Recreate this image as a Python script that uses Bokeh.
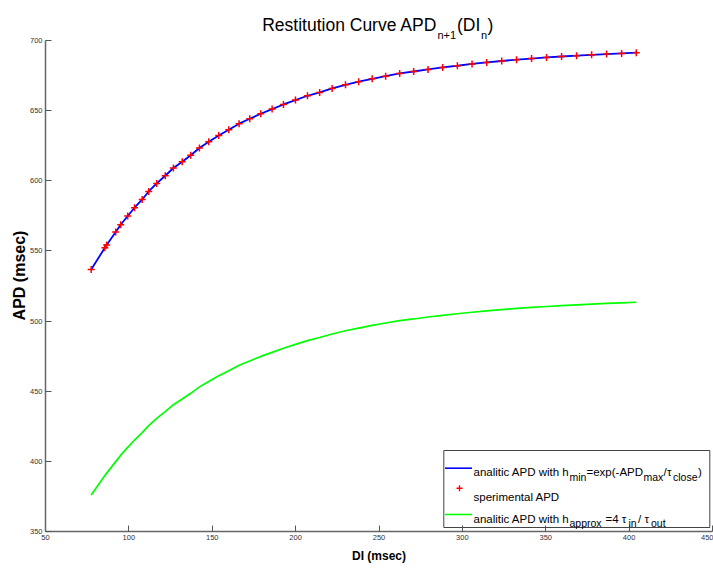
from math import pi
from bokeh.plotting import figure
from bokeh.models import Range1d, Label, BoxAnnotation, FixedTicker
from bokeh.embed import file_html
from bokeh.resources import INLINE

# ---------------- data ----------------
di_msec = [77.4, 85.6, 86.7, 92.1, 95.1, 99.3, 103.4, 108.0, 111.9, 116.7,
           121.8, 126.7, 132.0, 137.1, 142.3, 147.9, 153.9, 159.9, 166.1, 172.5,
           179.1, 185.9, 192.7, 199.9, 207.1, 214.4, 221.9, 229.9, 237.8, 245.9,
           254.0, 262.4, 270.8, 279.4, 288.2, 297.0, 305.8, 314.6, 323.6, 332.5,
           341.5, 350.5, 359.5, 368.5, 377.5, 386.5, 395.5, 404.3]

apd_experimental = [536.7, 552.3, 554.3, 563.5, 568.7, 574.9, 580.8, 586.7, 592.4, 598.1,
                    603.6, 609.1, 613.6, 618.2, 623.4, 627.8, 632.3, 636.4, 640.7, 644.2,
                    647.8, 651.1, 654.4, 657.5, 660.6, 663.0, 665.8, 668.4, 670.6, 672.7,
                    674.6, 676.5, 677.9, 679.4, 680.8, 682.0, 683.3, 684.4, 685.4, 686.3,
                    687.1, 687.9, 688.6, 689.2, 689.8, 690.3, 690.8, 691.3]

apd_analytic_hmin = [536.7, 552.3, 554.3, 563.5, 568.7, 574.9, 580.8, 586.7, 592.4, 598.1,
                     603.6, 609.1, 613.6, 618.2, 623.4, 627.8, 632.3, 636.4, 640.7, 644.2,
                     647.8, 651.1, 654.4, 657.5, 660.6, 663.0, 665.8, 668.4, 670.6, 672.7,
                     674.6, 676.5, 677.9, 679.4, 680.8, 682.0, 683.3, 684.4, 685.4, 686.3,
                     687.1, 687.9, 688.6, 689.2, 689.8, 690.3, 690.8, 691.3]

apd_analytic_happrox = [376.0, 389.9, 391.6, 399.8, 404.4, 410.0, 415.2, 420.5, 425.5, 430.6,
                        435.5, 440.4, 444.4, 448.5, 453.1, 457.0, 461.0, 464.6, 468.5, 471.6,
                        474.8, 477.7, 480.6, 483.4, 486.1, 488.3, 490.8, 493.1, 495.0, 496.9,
                        498.6, 500.3, 501.5, 502.9, 504.1, 505.2, 506.3, 507.3, 508.2, 509.0,
                        509.7, 510.4, 511.0, 511.6, 512.1, 512.6, 513.0, 513.4]

x_ticks = [50, 100, 150, 200, 250, 300, 350, 400, 450]
y_ticks = [350, 400, 450, 500, 550, 600, 650, 700]

# ---------------- layout ----------------
W, H = 713, 569
# pixel positions of the axis box (x: 50..450, y: 350..700) in the canvas
FL, FR, FT, FB = 45, 712, 40, 531
X0, X1, Y0, Y1 = 50, 450, 350, 700
FONT = "Liberation Sans"


def dx(px):
    return X0 + (px - FL) * (X1 - X0) / (FR - FL)


def dy(py):
    return Y1 - (py - FT) * (Y1 - Y0) / (FB - FT)


# the frame covers the whole canvas; the axes are fixed at x=50 / y=350
p = figure(width=W, height=H,
           x_range=Range1d(dx(0), dx(W)), y_range=Range1d(dy(H), dy(0)),
           output_backend="svg", toolbar_location=None,
           min_border_left=0, min_border_right=0,
           min_border_top=0, min_border_bottom=0)
p.title.visible = False
p.outline_line_color = None
p.grid.visible = False
p.background_fill_color = "white"
p.border_fill_color = "white"

p.xaxis.fixed_location = Y0
p.yaxis.fixed_location = X0
p.xaxis.bounds = (X0, X1)
p.yaxis.bounds = (Y0, Y1)
for ax in (p.xaxis[0], p.yaxis[0]):
    ax.axis_line_color = "#666666"
    ax.axis_line_width = 1.5
    ax.major_tick_line_color = "#555555"
    ax.major_tick_in = 6
    ax.major_tick_out = 0
    ax.minor_tick_line_color = None
    ax.major_label_text_font = FONT
    ax.major_label_text_font_size = "7.5px"
    ax.major_label_text_color = "#333333"
    ax.major_label_standoff = 3
p.xaxis.ticker = FixedTicker(ticks=x_ticks)
p.yaxis.ticker = FixedTicker(ticks=y_ticks)

# ---------------- data renderers ----------------
p.line(di_msec, apd_analytic_hmin, line_color="#0000ff", line_width=1.8)
p.scatter(di_msec, apd_experimental, marker="cross", size=7,
          line_color="#ff0000", line_width=1.5)
p.line(di_msec, apd_analytic_happrox, line_color="#00ff00", line_width=1.7)


def txt(s, px, py, size, bold=False, baseline="alphabetic", align="left", angle=0.0, color="black"):
    p.add_layout(Label(x=dx(px), y=dy(py), text=s, text_font=FONT,
                       text_font_size=size, text_font_style="bold" if bold else "normal",
                       text_baseline=baseline, text_align=align, angle=angle,
                       text_color=color))


# ---------------- title ----------------
txt("Restitution Curve APD", 261.7, 24, "17.5px")
txt("n+1", 437, 34.5, "11px")
txt("(DI", 456.5, 24, "17.5px")
txt("n", 480.5, 34.5, "11px")
txt(")", 487, 24, "17.5px")

# ---------------- axis labels ----------------
txt("DI (msec)", (FL + FR) / 2, 555.5, "12px", bold=True, baseline="middle", align="center")
txt("APD (msec)", 19, 275, "16px", bold=True, baseline="middle", align="center", angle=pi / 2)

# ---------------- legend ----------------
p.add_layout(BoxAnnotation(left=dx(443.3), right=dx(709.3), top=dy(450), bottom=dy(527),
                           fill_color=None, line_color="#444444", line_width=1,
                           line_alpha=1))
p.segment(x0=[dx(444.5)], y0=[dy(467.7)], x1=[dx(471.5)], y1=[dy(467.7)],
          line_color="#0000ff", line_width=1.6)
p.scatter([dx(459)], [dy(487.7)], marker="cross", size=6, line_color="#ff0000", line_width=1.4)
p.segment(x0=[dx(444.5)], y0=[dy(514)], x1=[dx(471.5)], y1=[dy(514)],
          line_color="#00ff00", line_width=1.6)

MAIN, SUB = "11.5px", "10.5px"
# entry 1
txt("analitic APD with h", 473, 471, MAIN)
txt("min", 569, 476, SUB)
txt("=exp(-APD", 586, 471, MAIN)
txt("max", 643, 476, SUB)
txt("/", 663, 471, MAIN)
txt("\u03c4", 666.5, 471, MAIN)
txt("close", 672.5, 476, SUB)
txt(")", 697.5, 471, MAIN)
# entry 2
txt("sperimental APD", 473, 496, MAIN)
# entry 3
txt("analitic APD with h", 473, 518, MAIN)
txt("approx", 569, 522.5, SUB)
txt("=4 \u03c4", 605, 518, MAIN)
txt("in", 628, 522.5, SUB)
txt("/ \u03c4", 637.5, 518, MAIN)
txt("out", 650.5, 522.5, SUB)

open("out.html", "w").write(file_html(p, INLINE))
